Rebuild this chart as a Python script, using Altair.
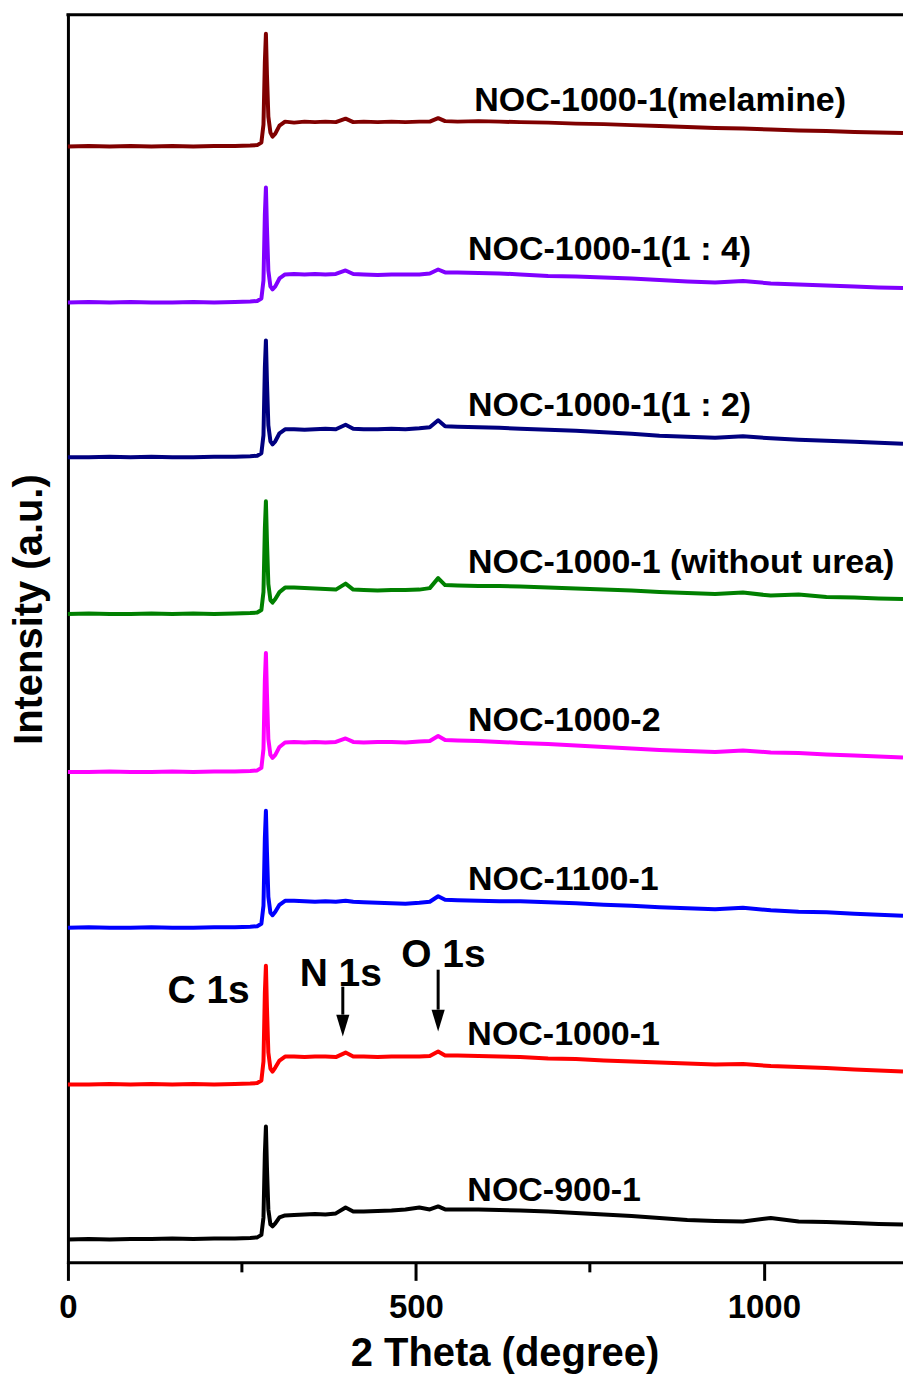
import altair as alt
import pandas as pd

FONT = "Liberation Sans"

# Binding energy grid (eV) shared by every survey spectrum
binding_energy = [0, 30, 60, 90, 120, 150, 180, 210, 240,
                  262, 272, 278, 281, 283, 284.5, 286, 288, 291, 294,
                  298, 304, 312, 325, 340, 355, 370, 385, 399, 410,
                  425, 445, 465, 485, 505, 520, 532, 542, 560, 590,
                  620, 650, 690, 730, 770, 810, 850, 890, 930, 970,
                  1010, 1050, 1090, 1130, 1165, 1200]

# Intensities (a.u.) of each spectrum above its own baseline
noc_1000_1_melamine = [0, 0.5, 0, 0.5, 0, 0.5, 0, 0.5, 0.5,
                       1, 1.5, 4, 22, 85, 113, 72, 30, 14, 10,
                       13, 21, 25, 24, 25, 24.5, 25, 24.5, 28, 24.5,
                       25, 24.5, 25, 24.5, 25, 25, 28.5, 25.5, 25, 25.5,
                       25, 24.5, 24, 23, 22.5, 21.5, 20.5, 19.5, 18.5, 18,
                       17, 16, 15.5, 14.5, 14, 13.5]
noc_1000_1_1_4 = [0, 0.5, 0, 0.5, 0, 0, 0.5, 0, 0.5,
                  1, 1.5, 4, 22, 88, 115, 75, 32, 16, 13,
                  16, 24, 28, 28.5, 28, 28.5, 28, 28.5, 32, 28.5,
                  28, 27.5, 28, 28, 28, 29, 33, 30, 30, 29.5,
                  29, 28, 26.5, 26, 25, 24, 22.5, 21, 20, 21.5,
                  19, 18, 17, 16, 15, 14.5]
noc_1000_1_1_2 = [0, 0, 0.5, 0, 0.5, 0, 0, 0.5, 0.5,
                  1, 1.5, 4, 22, 90, 117, 76, 32, 16, 13,
                  16, 24, 28, 28, 27.5, 28, 28.5, 28, 32.5, 28.5,
                  28, 28, 28.5, 28, 29, 30, 37, 31, 30.5, 30,
                  29.5, 28.5, 27.5, 26.5, 25, 23.5, 21.5, 20.5, 19.5, 21,
                  19, 17.5, 16.5, 15.5, 14.5, 13.5]
noc_1000_1_no_urea = [0, 0.5, 0, 0, 0.5, 0, 0.5, 0, 0.5,
                      1, 1.5, 4, 22, 86, 113, 73, 30, 14, 11.5,
                      15, 22, 26.5, 26.5, 26, 25.5, 25, 24.5, 30.5, 24.5,
                      24, 23.5, 24, 24, 24.5, 26, 36, 29, 28.5, 28,
                      28, 27.5, 26.5, 25.5, 24.5, 23.5, 22, 21, 20, 21.5,
                      18.5, 19.5, 17, 16.5, 15.5, 15]
noc_1000_2 = [0, 0, 0.5, 0, 0, 0.5, 0, 0.5, 0.5,
              1, 1.5, 4, 23, 92, 119, 78, 33, 17, 14,
              17, 25, 29.5, 30, 29.5, 30, 29.5, 30, 33.5, 30,
              29.5, 30, 30, 29.5, 30.5, 31, 36, 32, 31.5, 31,
              30, 29, 28, 26.5, 25, 23.5, 22, 21, 20, 21.5,
              19.5, 19, 17.5, 16.5, 15.5, 14.5]
noc_1100_1 = [0, 0.5, 0, 0, 0.5, 0, 0, 0.5, 0.5,
              1, 1.5, 4, 22, 90, 117, 76, 31, 15, 12.5,
              16, 23, 27, 27, 26.5, 26, 26.5, 26, 27, 26,
              25.5, 25, 24.5, 24, 25, 26, 31.5, 28, 27.5, 27,
              26.5, 26.5, 25.5, 24.5, 23, 22, 20.5, 19.5, 18.5, 20,
              17.5, 16, 15.5, 14, 13, 12]
noc_1000_1 = [0, 0, 0.5, 0, 0.5, 0, 0.5, 0, 0.5,
              1, 1.5, 4, 23, 92, 119, 77, 32, 16, 13,
              17, 24, 28, 28, 27.5, 28, 28, 27.5, 32, 28,
              28, 27.5, 28, 28, 28, 28.5, 33, 29, 29, 28.5,
              28, 27.5, 26, 25.5, 24, 23, 22, 21, 20, 20.5,
              18.5, 17.5, 16.5, 15, 14, 13]
noc_900_1 = [0, 0.5, 0, 0.5, 0.5, 1, 0.5, 1, 1,
             1.5, 2, 4.5, 22, 86, 113, 72, 30, 15, 13,
             16, 22, 24, 24.5, 25, 25.5, 25, 26, 32, 28,
             28, 28.5, 29, 30, 32, 30, 33, 30, 30, 30,
             29.5, 29, 28, 26.5, 25, 23.5, 21.5, 19.5, 18.5, 18,
             21.5, 18, 17.5, 16.5, 15.5, 15]

sample_names = ["NOC-1000-1(melamine)", "NOC-1000-1(1 : 4)", "NOC-1000-1(1 : 2)",
                "NOC-1000-1 (without urea)", "NOC-1000-2", "NOC-1100-1",
                "NOC-1000-1", "NOC-900-1"]
sample_spectra = [noc_1000_1_melamine, noc_1000_1_1_4, noc_1000_1_1_2,
                  noc_1000_1_no_urea, noc_1000_2, noc_1100_1, noc_1000_1, noc_900_1]
sample_colors = ["#800000", "#8000FF", "#000080", "#008000",
                 "#FF00FF", "#0000FF", "#FF0000", "#000000"]
# vertical stacking offset of each spectrum (a.u.)
stack_offsets = [1117, 961, 806, 649, 491, 335, 178, 23]

# sample name labels: binding energy of left edge, intensity of text baseline
label_energy = [584, 575, 575, 575, 575, 575, 574, 574]
label_intensity = [1153, 1003, 847, 690, 532, 373, 218, 61]

# core-level annotations
peak_names = ["C 1s", "N 1s", "O 1s"]
peak_text_energy = [143, 333, 479]
peak_text_intensity = [260, 277, 296]
arrow_energy = [395, 532]
arrow_top = [276, 293]
arrow_base = [248, 253]
arrow_tip_center = [237, 242]

X_MAX = 1200
Y_MAX = 1249
minor_ticks = [250, 750]

rows = []
for name, spectrum, offset in zip(sample_names, sample_spectra, stack_offsets):
    assert len(spectrum) == len(binding_energy), name
    for e, v in zip(binding_energy, spectrum):
        rows.append({"energy": e, "intensity": offset + v, "sample": name})
spectra = pd.DataFrame(rows)

labels = pd.DataFrame({"energy": label_energy, "intensity": label_intensity,
                       "text": sample_names})
peaks = pd.DataFrame({"energy": peak_text_energy, "intensity": peak_text_intensity,
                      "text": peak_names})
arrows = pd.DataFrame({"energy": arrow_energy, "intensity": arrow_top,
                       "base": arrow_base, "tip": arrow_tip_center})
frame_top = pd.DataFrame({"energy": [0], "energy2": [X_MAX], "intensity": [Y_MAX]})
minor = pd.DataFrame({"energy": minor_ticks})

W, H = 836, 1249
x_scale = alt.Scale(domain=[0, X_MAX], nice=False, zero=False)
y_scale = alt.Scale(domain=[0, Y_MAX], nice=False, zero=False)

x_axis = alt.Axis(
    values=[0, 500, 1000], format="d", grid=False,
    domainColor="black", domainWidth=3, domainCap="square",
    tickColor="black", tickWidth=3, tickSize=18,
    labelFont=FONT, labelFontSize=33, labelFontWeight="bold", labelColor="black",
    labelBaseline="alphabetic", labelPadding=37, labelFlush=False, labelOverlap=False,
    title="2 Theta (degree)", titleFont=FONT, titleFontSize=40, titleFontWeight="bold",
    titleColor="black", titleX=437, titleY=103, titleAlign="center",
    titleBaseline="alphabetic",
)
y_axis = alt.Axis(
    grid=False, ticks=False, labels=False,
    domainColor="black", domainWidth=3, domainCap="square",
    title="Intensity (a.u.)", titleFont=FONT, titleFontSize=40, titleFontWeight="bold",
    titleColor="black", titleAngle=270, titleX=-26, titleY=595, titleAlign="center",
    titleBaseline="alphabetic",
)

lines = alt.Chart(spectra).mark_line(strokeWidth=4, strokeJoin="round").encode(
    x=alt.X("energy:Q", scale=x_scale, axis=x_axis),
    y=alt.Y("intensity:Q", scale=y_scale, axis=y_axis),
    color=alt.Color("sample:N", scale=alt.Scale(domain=sample_names, range=sample_colors),
                    legend=None),
)

top_border = alt.Chart(frame_top).mark_rule(color="black", strokeWidth=3,
                                            strokeCap="square").encode(
    x=alt.X("energy:Q", scale=x_scale),
    x2="energy2:Q",
    y=alt.Y("intensity:Q", scale=y_scale),
)

minor_tick_marks = alt.Chart(minor).mark_rule(color="black", strokeWidth=3).encode(
    x=alt.X("energy:Q", scale=x_scale),
    y=alt.value(H),
    y2=alt.value(H + 10),
)

sample_labels = alt.Chart(labels).mark_text(
    align="left", baseline="alphabetic", font=FONT, fontSize=34,
    fontWeight="bold", color="black",
).encode(
    x=alt.X("energy:Q", scale=x_scale),
    y=alt.Y("intensity:Q", scale=y_scale),
    text="text:N",
)

peak_labels = alt.Chart(peaks).mark_text(
    align="left", baseline="alphabetic", font=FONT, fontSize=39,
    fontWeight="bold", color="black",
).encode(
    x=alt.X("energy:Q", scale=x_scale),
    y=alt.Y("intensity:Q", scale=y_scale),
    text="text:N",
)

arrow_shafts = alt.Chart(arrows).mark_rule(color="black", strokeWidth=3).encode(
    x=alt.X("energy:Q", scale=x_scale),
    y=alt.Y("intensity:Q", scale=y_scale),
    y2="base:Q",
)

arrow_heads = alt.Chart(arrows).mark_point(
    shape="M -0.6 -1 L 0.6 -1 L 0 1 Z", filled=True, size=484,
    color="black", opacity=1, strokeWidth=0,
).encode(
    x=alt.X("energy:Q", scale=x_scale),
    y=alt.Y("tip:Q", scale=y_scale),
)

chart = alt.layer(
    lines, top_border, minor_tick_marks, sample_labels, peak_labels,
    arrow_shafts, arrow_heads,
).properties(
    width=W, height=H,
    padding={"left": 68, "top": 14, "right": 0, "bottom": 111},
    autosize=alt.AutoSizeParams(type="none"),
    background="white",
).configure_view(stroke=None)

chart.save("out.html", embed_options={"renderer": "svg", "actions": False})
